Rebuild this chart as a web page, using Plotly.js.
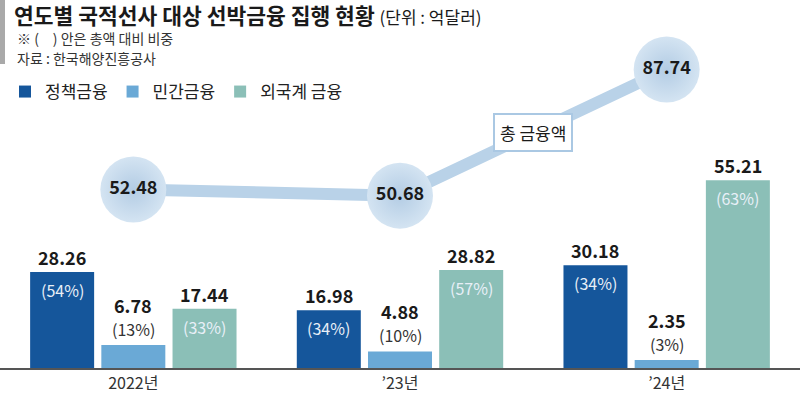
<!DOCTYPE html>
<html>
<head>
<meta charset="utf-8">
<script src="https://cdn.plot.ly/plotly-3.0.1.min.js"></script>
<style>
html,body{margin:0;padding:0;background:#fff;}
#chart{width:800px;height:396px;}
</style>
</head>
<body>
<div id="chart"></div>
<script>
// ---- data ----
var categories = ['2022년', '\u201923년', '\u201924년'];
var seriesNames = ['정책금융', '민간금융', '외국계 금융'];
var policyValues = [28.26, 16.98, 30.18];
var privateValues = [6.78, 4.88, 2.35];
var foreignValues = [17.44, 28.82, 55.21];
var policyShare = ['(54%)', '(34%)', '(34%)'];
var privateShare = ['(13%)', '(10%)', '(3%)'];
var foreignShare = ['(33%)', '(57%)', '(63%)'];
var totalValues = [52.48, 50.68, 87.74];
var totalLabel = '총 금융액';

// ---- style ----
var FONT = '"Noto Sans CJK KR", "Noto Sans", sans-serif';
var colors = ['#15569b', '#6aa9d6', '#8bbfb7'];
var barWidth = 0.24;
var offsets = [-0.387, -0.12, 0.147];
var yMax = 108.2;

var seriesValues = [policyValues, privateValues, foreignValues];
var seriesShares = [policyShare, privateShare, foreignShare];
var shareInside = [true, false, true];

var traces = [];
for (var s = 0; s < 3; s++) {
  traces.push({
    type: 'bar',
    name: seriesNames[s],
    x: categories,
    y: seriesValues[s],
    width: barWidth,
    offset: offsets[s],
    marker: {color: colors[s], line: {width: 0}},
    hoverinfo: 'skip'
  });
}
traces.push({
  type: 'scatter',
  mode: 'lines+markers+text',
  x: categories,
  y: totalValues,
  showlegend: false,
  line: {color: '#b9d2e8', width: 12},
  marker: {size: 66, color: '#d4e4f2', gradient: {type: 'radial', color: '#b3cce4'}, line: {width: 0}},
  texttemplate: '<b>%{y:.2f}</b>',
  textposition: 'middle center',
  textfont: {family: FONT, size: 18, color: '#1a1a1a'},
  hoverinfo: 'skip'
});

var annotations = [];
for (var s = 0; s < 3; s++) {
  for (var i = 0; i < categories.length; i++) {
    var xc = i + offsets[s] + barWidth / 2;
    var v = seriesValues[s][i];
    if (shareInside[s]) {
      annotations.push({xref: 'x', yref: 'y', x: xc, y: v, yanchor: 'bottom', yshift: 0,
        text: '<b>' + v.toFixed(2) + '</b>', showarrow: false,
        font: {family: FONT, size: 18, color: '#1a1a1a'}});
      annotations.push({xref: 'x', yref: 'y', x: xc, y: v, yanchor: 'top', yshift: -4,
        text: seriesShares[s][i], showarrow: false,
        font: {family: FONT, size: 16, color: '#e8eff7'}});
    } else {
      annotations.push({xref: 'x', yref: 'y', x: xc, y: v, yanchor: 'bottom', yshift: 25,
        text: '<b>' + v.toFixed(2) + '</b>', showarrow: false,
        font: {family: FONT, size: 18, color: '#1a1a1a'}});
      annotations.push({xref: 'x', yref: 'y', x: xc, y: v, yanchor: 'bottom', yshift: 2,
        text: seriesShares[s][i], showarrow: false,
        font: {family: FONT, size: 16, color: '#333333'}});
    }
  }
}
// label on the total line (midpoint between last two points)
annotations.push({xref: 'x', yref: 'y', x: 1.5, y: (totalValues[1] + totalValues[2]) / 2,
  text: totalLabel, showarrow: false, bgcolor: '#ffffff', bordercolor: '#aac8e3',
  borderwidth: 2, borderpad: 5, font: {family: FONT, size: 17, color: '#1a1a1a'}});
// notes
annotations.push({xref: 'paper', yref: 'paper', x: 15 / 800, xanchor: 'left', y: 1 - 38 / 368, yanchor: 'middle',
  text: '\u203b (\u2002\u2002) 안은 총액 대비 비중', showarrow: false,
  font: {family: FONT, size: 14, color: '#333333'}});
annotations.push({xref: 'paper', yref: 'paper', x: 15 / 800, xanchor: 'left', y: 1 - 58 / 368, yanchor: 'middle',
  text: '자료 : 한국해양진흥공사', showarrow: false,
  font: {family: FONT, size: 14, color: '#333333'}});

var layout = {
  width: 800, height: 396,
  margin: {l: 0, r: 0, t: 0, b: 28},
  paper_bgcolor: '#ffffff', plot_bgcolor: '#ffffff',
  barmode: 'overlay',
  font: {family: FONT},
  title: {
    text: '<b>연도별 국적선사 대상 선박금융 집행 현황</b> <span style="font-size:17px;font-weight:normal">(단위 : 억달러)</span>',
    xref: 'container', yref: 'container', x: 14 / 800, xanchor: 'left', y: 1 - 16 / 396, yanchor: 'middle',
    font: {family: FONT, size: 21.5, color: '#1a1a1a'}
  },
  showlegend: true,
  legend: {orientation: 'h', x: 5 / 800, xanchor: 'left', y: 1 - 92 / 368, yanchor: 'middle',
    font: {family: FONT, size: 17, color: '#222222'}, bgcolor: 'rgba(0,0,0,0)', traceorder: 'normal'},
  xaxis: {type: 'category', range: [-0.5, 2.5], showline: true, linecolor: '#555555', linewidth: 1.5,
    ticks: '', showgrid: false, zeroline: false, fixedrange: true, ticklabelstandoff: 0,
    tickfont: {family: FONT, size: 16, color: '#333333'}},
  yaxis: {range: [0, yMax], visible: false, showgrid: false, zeroline: false, fixedrange: true},
  shapes: [
    {type: 'rect', xref: 'paper', yref: 'paper', x0: 0, x1: 5 / 800, y0: 1 - 64 / 368, y1: 1,
      fillcolor: '#a9a9a9', line: {width: 0}}
  ],
  annotations: annotations
};

Plotly.newPlot('chart', traces, layout, {displayModeBar: false, staticPlot: true});
</script>
</body>
</html>
